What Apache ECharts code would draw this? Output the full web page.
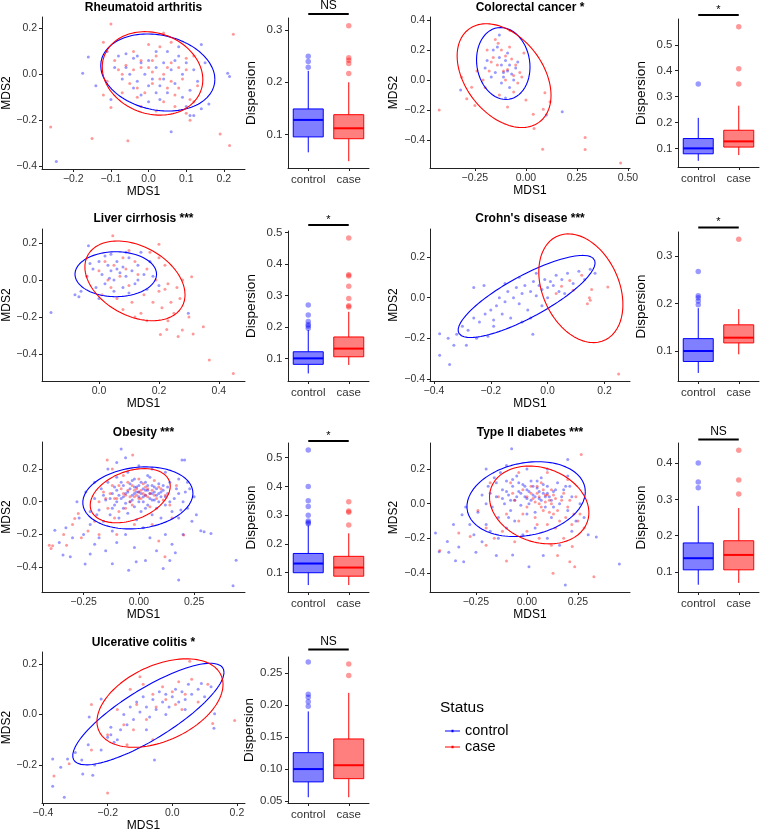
<!DOCTYPE html>
<html><head><meta charset="utf-8">
<script src="https://cdn.jsdelivr.net/npm/echarts@6/dist/echarts.min.js"></script>
<style>html,body{margin:0;padding:0;background:#fff}#c{width:760px;height:833px}</style>
</head><body><div id="c"></div>
<script>
// ---------------- DATA ----------------
const groups = ['control', 'case'];
const titles = ['Rheumatoid arthritis', 'Colorectal cancer *', 'Liver cirrhosis ***', "Crohn's disease ***", 'Obesity ***', 'Type II diabetes ***', 'Ulcerative colitis *'];
const sigLabels = ['NS', '*', '*', '*', '*', 'NS', 'NS'];

// MDS points [MDS1, MDS2]
const raControl = [[-0.245,-0.38],[-0.175,0.005],[-0.16,0.075],[-0.14,-0.05],[-0.1,-0.11],[0.06,-0.25],[0.14,0.13],[0.21,0.005],[0.215,-0.01],[-0.08,0.08],[-0.06,0.09],[-0.04,0.07],[-0.02,0.05],[0.0,0.06],[0.02,0.03],[0.04,0.05],[0.06,0.02],[0.08,0.08],[0.1,0.05],[0.12,0.02],[-0.07,-0.02],[-0.05,0.0],[-0.03,-0.03],[0.01,-0.02],[0.03,-0.05],[0.05,-0.08],[0.07,-0.04],[0.09,-0.1],[0.11,-0.07],[-0.02,-0.09],[0.0,-0.12],[0.03,-0.11],[0.1,-0.14],[0.12,-0.18],[0.16,-0.13],[-0.09,0.03],[0.13,-0.03],[0.15,0.05],[-0.11,0.1],[0.08,0.12],[0.02,0.1],[-0.01,0.0],[0.05,0.1],[0.11,-0.18],[0.14,-0.15],[-0.06,0.03],[-0.03,0.08],[0.0,-0.05],[0.04,-0.02],[0.07,0.06],[0.09,0.0],[-0.04,-0.06],[0.02,-0.08]];
const raCase = [[-0.1,0.22],[0.225,0.175],[-0.26,-0.23],[-0.15,-0.28],[-0.055,-0.29],[0.19,-0.26],[0.215,-0.31],[-0.1,-0.145],[-0.12,-0.09],[-0.12,0.14],[-0.08,0.02],[-0.06,0.04],[-0.04,0.02],[-0.02,0.06],[0.0,0.03],[0.02,0.08],[0.04,0.0],[0.06,0.05],[0.08,0.03],[0.1,0.07],[-0.05,-0.04],[-0.03,-0.06],[-0.01,-0.08],[0.01,-0.04],[0.03,-0.02],[0.05,-0.06],[0.07,-0.09],[0.09,-0.02],[0.11,-0.11],[-0.07,-0.08],[-0.04,0.1],[0.0,0.13],[0.03,0.12],[0.06,0.14],[-0.02,-0.14],[0.02,-0.16],[0.07,-0.14],[0.12,-0.12],[0.13,-0.05],[0.12,0.08],[-0.09,0.06],[0.04,0.18],[0.1,-0.17],[0.11,-0.2],[-0.11,-0.03],[0.01,0.01],[-0.07,0.0],[-0.02,0.03],[0.01,0.06],[0.05,0.03],[0.08,-0.06],[0.1,0.02],[-0.03,-0.1],[0.04,-0.12],[0.06,-0.03]];
const crcControl = [[-0.32,-0.067],[0.178,-0.212],[0.10,-0.234],[-0.19,0.13],[-0.16,0.2],[-0.14,0.22],[-0.13,0.15],[-0.12,0.1],[-0.11,0.05],[-0.1,0.13],[-0.09,0.18],[-0.08,0.1],[-0.07,0.04],[-0.06,0.0],[-0.05,0.08],[-0.15,0.05],[-0.17,0.02],[-0.2,0.08],[-0.12,-0.02],[-0.1,-0.12],[-0.08,-0.05],[-0.13,0.3],[-0.04,0.12],[-0.11,0.02],[-0.09,0.06]];
const crcCase = [[-0.425,-0.2],[0.29,-0.384],[0.29,-0.464],[0.082,-0.462],[0.464,-0.554],[0.04,-0.324],[0.036,-0.228],[0.085,-0.196],[0.093,-0.085],[-0.29,-0.125],[-0.25,-0.17],[-0.315,0.018],[-0.266,-0.049],[-0.09,-0.18],[0.0,-0.134],[0.118,-0.145],[-0.078,0.33],[-0.136,0.245],[-0.15,0.27],[-0.12,0.2],[-0.16,0.15],[-0.14,0.1],[-0.1,0.16],[-0.08,0.22],[-0.07,0.14],[-0.05,0.1],[-0.03,0.05],[-0.02,0.02],[-0.04,-0.02],[-0.06,0.03],[-0.11,0.06],[-0.18,0.06],[-0.21,0.0],[-0.2,-0.05],[-0.13,-0.1],[-0.06,-0.08],[-0.17,0.12],[-0.1,0.0],[-0.01,0.18],[-0.09,0.07],[-0.19,0.2],[-0.24,0.06]];
const lcControl = [[-0.16,-0.175],[0.298,-0.18],[-0.08,-0.08],[-0.067,-0.09],[-0.035,0.186],[-0.06,-0.06],[-0.04,0.02],[-0.02,0.06],[0.0,0.1],[0.01,0.03],[0.02,-0.02],[0.03,0.08],[0.04,0.05],[0.05,0.0],[0.06,0.1],[0.07,0.04],[0.08,0.07],[0.09,0.02],[0.1,0.12],[0.11,0.05],[0.12,-0.02],[0.13,0.08],[0.14,0.15],[0.15,0.03],[0.16,-0.05],[0.17,0.1],[0.02,0.13],[0.05,-0.06],[0.08,-0.04],[-0.01,-0.04],[0.04,0.14],[0.18,0.02],[0.1,-0.07],[0.06,0.06],[0.0,-0.1],[0.13,0.0],[-0.03,0.09],[0.09,0.15],[0.2,-0.03],[0.035,0.01]];
const lcCase = [[0.046,0.24],[0.2,0.193],[0.348,-0.252],[0.368,-0.432],[0.448,-0.505],[0.205,-0.294],[0.226,-0.267],[0.264,-0.306],[0.278,-0.27],[0.314,-0.292],[0.279,0.0],[0.309,0.018],[0.27,-0.1],[0.0,0.05],[0.03,0.0],[0.05,0.08],[0.07,0.02],[0.09,0.06],[0.1,-0.03],[0.12,0.1],[0.13,0.03],[0.15,-0.08],[0.16,0.06],[0.18,-0.12],[0.19,0.0],[0.2,-0.06],[0.21,-0.15],[0.22,-0.05],[0.23,-0.02],[0.24,-0.12],[0.25,-0.18],[0.26,-0.04],[0.11,-0.12],[0.08,-0.16],[0.06,-0.1],[0.14,-0.18],[0.17,0.15],[0.2,0.12],[0.04,-0.04],[0.02,0.1],[0.12,-0.2],[0.16,-0.22],[0.23,-0.22],[0.08,0.12],[0.1,0.16],[0.22,0.08],[0.01,-0.08],[0.3,-0.2]];
const cdControl = [[-0.38,-0.177],[-0.38,-0.283],[-0.345,-0.329],[-0.33,-0.234],[-0.224,0.06],[-0.052,-0.18],[0.167,0.12],[-0.286,-0.234],[-0.35,-0.2],[-0.32,-0.18],[-0.3,-0.14],[-0.28,-0.16],[-0.26,-0.1],[-0.25,-0.2],[-0.24,-0.12],[-0.22,-0.08],[-0.21,-0.19],[-0.2,-0.06],[-0.19,-0.11],[-0.18,-0.04],[-0.17,0.0],[-0.16,-0.08],[-0.15,-0.02],[-0.14,0.03],[-0.13,-0.1],[-0.12,0.0],[-0.11,0.05],[-0.1,-0.03],[-0.09,0.02],[-0.08,0.06],[-0.07,-0.06],[-0.06,0.03],[-0.05,0.08],[-0.04,0.01],[-0.03,0.06],[-0.02,0.04],[-0.01,0.09],[0.0,0.05],[0.01,0.08],[0.02,0.06],[0.03,0.11],[0.04,0.03],[0.05,0.09],[0.07,0.12],[0.09,0.07],[0.11,0.13],[0.13,0.09],[0.15,0.14],[-0.1,0.1],[-0.15,0.07],[-0.06,-0.1],[-0.02,-0.04],[0.0,0.0],[-0.19,-0.14],[-0.26,0.05],[-0.09,-0.12],[-0.04,0.12],[0.06,0.02]];
const cdCase = [[0.212,0.052],[0.25,-0.376],[0.15,-0.013],[0.147,0.0],[0.155,0.04],[0.12,0.11],[0.078,0.085],[0.09,0.036],[0.049,0.056],[0.03,0.02],[0.14,-0.03]];
const obControl = [[-0.08,0.323],[0.195,0.256],[0.207,0.256],[0.44,-0.358],[0.426,-0.515],[0.18,-0.48],[0.165,-0.313],[-0.012,-0.368],[-0.046,-0.419],[-0.243,-0.382],[-0.343,-0.327],[-0.31,-0.337],[-0.38,-0.174],[0.28,-0.178],[0.295,-0.184],[0.326,-0.194],[0.11,-0.409],[-0.2,0.02],[-0.18,-0.05],[-0.17,0.08],[-0.16,-0.12],[-0.15,0.01],[-0.14,0.12],[-0.13,-0.08],[-0.12,0.05],[-0.11,-0.02],[-0.1,0.15],[-0.1,0.07],[-0.09,-0.1],[-0.08,0.02],[-0.07,0.1],[-0.07,-0.04],[-0.06,0.05],[-0.05,0.18],[-0.05,-0.07],[-0.04,0.08],[-0.04,0.0],[-0.03,0.13],[-0.03,0.04],[-0.02,-0.03],[-0.02,0.09],[-0.01,0.06],[-0.01,-0.11],[0.0,0.03],[0.0,0.1],[0.01,0.05],[0.01,-0.06],[0.02,0.08],[0.02,0.0],[0.03,0.12],[0.03,0.04],[0.04,-0.02],[0.04,0.07],[0.05,0.02],[0.05,0.15],[0.06,0.05],[0.06,-0.08],[0.07,0.09],[0.07,0.01],[0.08,0.04],[0.08,-0.04],[0.09,0.11],[0.1,0.03],[0.1,-0.1],[0.11,0.07],[0.12,-0.02],[0.13,0.05],[0.14,0.12],[0.15,-0.06],[0.16,0.02],[0.17,0.08],[0.18,-0.1],[0.2,0.0],[0.21,0.06],[0.22,-0.04],[0.24,-0.12],[0.25,0.03],[-0.27,-0.1],[-0.25,-0.2],[-0.22,-0.14],[-0.2,-0.26],[-0.18,-0.22],[-0.15,-0.3],[-0.12,-0.18],[-0.1,-0.25],[-0.06,-0.2],[-0.02,-0.28],[0.02,-0.16],[0.05,-0.22],[0.08,-0.3],[0.12,-0.2],[0.15,-0.26],[0.2,-0.2],[-0.3,-0.22],[-0.33,-0.16],[-0.28,0.0],[-0.24,0.06],[-0.2,0.12],[-0.14,0.2],[-0.1,0.24],[-0.06,0.27],[0.0,0.22],[0.06,0.2],[0.12,0.18],[0.18,0.14],[0.22,0.12],[0.26,-0.08],[-0.36,-0.25],[-0.22,-0.32],[0.03,-0.36],[0.14,-0.36],[-0.12,-0.38],[-0.13,0.02],[-0.11,0.09],[-0.09,0.04],[-0.08,0.12],[-0.06,-0.01],[-0.05,0.06],[-0.04,0.11],[-0.03,0.01],[-0.02,0.05],[-0.01,0.09],[0.0,0.0],[0.0,0.06],[0.01,0.12],[0.02,0.03],[0.03,0.07],[0.04,0.1],[0.05,0.05],[0.06,0.01],[0.06,0.1],[0.07,0.06],[0.08,0.08],[0.09,0.0],[0.1,0.06],[0.11,0.1],[0.12,0.03],[0.13,0.09],[0.14,0.0],[-0.12,-0.04],[-0.1,0.0],[-0.07,0.03],[0.03,-0.04],[0.09,0.05],[-0.02,0.14],[0.04,0.16],[-0.16,0.04],[0.18,0.05],[0.19,-0.05],[0.23,0.08],[-0.22,-0.06],[-0.19,-0.08]];
const obCase = [[-0.405,-0.266],[-0.39,-0.27],[-0.397,-0.286],[-0.327,-0.266],[-0.028,0.286],[-0.143,0.256],[0.118,-0.337],[0.203,-0.204],[-0.274,-0.072],[-0.29,-0.102],[-0.18,0.0],[-0.16,0.06],[-0.14,-0.04],[-0.12,0.1],[-0.1,0.02],[-0.09,-0.06],[-0.08,0.08],[-0.06,0.04],[-0.05,0.12],[-0.04,0.03],[-0.03,-0.02],[-0.02,0.07],[-0.01,0.04],[0.0,0.06],[0.01,0.02],[0.02,0.05],[0.03,0.09],[0.04,0.03],[0.05,-0.03],[0.06,0.07],[0.08,0.02],[0.1,0.08],[0.12,0.04],[0.14,-0.02],[-0.11,-0.1],[-0.07,0.16],[0.0,0.14],[0.07,0.13],[-0.2,-0.12],[-0.23,-0.18],[-0.26,-0.22],[-0.18,-0.2],[-0.1,-0.2],[-0.02,-0.14],[0.06,-0.14],[0.15,-0.1],[-0.3,-0.14],[-0.34,-0.2],[0.17,0.1],[-0.12,0.2],[0.09,-0.24],[-0.13,0.05],[-0.11,0.02],[-0.09,0.1],[-0.07,0.05],[-0.05,0.07],[-0.04,0.0],[-0.03,0.1],[-0.02,0.03],[-0.01,0.08],[0.0,0.02],[0.01,0.07],[0.02,0.11],[0.03,0.04],[0.04,0.08],[0.05,0.05],[0.07,0.04],[0.09,0.09],[0.11,0.01],[-0.15,0.02],[-0.06,-0.04]];
const t2Control = [[-0.075,0.317],[0.2,0.255],[0.453,-0.348],[0.188,-0.47],[0.01,-0.364],[-0.07,-0.296],[0.34,-0.193],[-0.383,-0.28],[-0.35,-0.329],[-0.31,-0.335],[-0.318,-0.064],[-0.448,-0.17],[-0.39,-0.218],[-0.43,-0.277],[-0.334,-0.25],[-0.24,-0.05],[-0.22,0.05],[-0.2,-0.12],[-0.19,0.1],[-0.17,-0.02],[-0.16,0.15],[-0.15,0.04],[-0.14,-0.08],[-0.13,0.18],[-0.12,0.08],[-0.11,0.0],[-0.1,0.13],[-0.09,0.05],[-0.08,-0.04],[-0.07,0.1],[-0.06,0.02],[-0.05,0.16],[-0.04,0.07],[-0.03,-0.01],[-0.02,0.11],[-0.01,0.04],[0.0,0.08],[0.01,0.0],[0.02,0.13],[0.03,0.05],[0.04,-0.05],[0.05,0.09],[0.06,0.03],[0.07,0.15],[0.08,0.06],[0.09,-0.02],[0.1,0.1],[0.11,0.04],[0.12,-0.08],[0.13,0.07],[0.15,0.12],[0.16,0.0],[0.18,0.08],[0.2,-0.04],[0.22,0.04],[0.24,-0.1],[-0.28,-0.12],[-0.26,-0.18],[-0.22,-0.22],[-0.18,-0.16],[-0.14,-0.2],[-0.1,-0.14],[-0.06,-0.1],[-0.02,-0.18],[0.04,-0.14],[0.1,-0.2],[0.16,-0.24],[0.22,-0.16],[0.26,0.0],[0.28,-0.08],[-0.3,-0.02],[-0.2,0.2],[-0.1,0.22],[0.0,0.2],[0.1,0.2],[0.2,0.16],[-0.36,-0.12],[-0.25,-0.28],[0.08,-0.3],[0.3,-0.18],[-0.15,-0.3],[-0.12,0.03],[-0.1,0.07],[-0.08,0.02],[-0.07,0.14],[-0.05,0.04],[-0.04,0.12],[-0.03,0.06],[-0.01,0.1],[0.0,0.03],[0.01,0.07],[0.02,0.02],[0.03,0.1],[0.04,0.04],[0.05,0.13],[0.06,0.07],[0.07,0.02],[0.08,0.11],[0.09,0.04],[0.1,0.06],[0.12,0.02],[0.14,0.08],[0.17,0.04],[-0.18,0.06],[-0.15,0.12],[-0.2,0.0],[0.19,0.1],[-0.09,-0.08],[0.0,-0.06],[0.13,-0.02],[0.21,0.1]];
const t2Case = [[0.266,0.284],[-0.427,-0.271],[0.328,-0.422],[0.234,-0.364],[-0.1,-0.331],[0.128,-0.402],[0.21,-0.335],[0.222,-0.248],[-0.334,-0.17],[-0.278,-0.19],[-0.14,0.04],[-0.1,-0.06],[-0.08,0.12],[-0.06,0.02],[-0.04,-0.1],[-0.02,0.08],[0.0,-0.02],[0.02,0.1],[0.03,0.03],[0.04,-0.08],[0.05,0.06],[0.06,0.0],[0.07,0.12],[0.08,-0.04],[0.09,0.05],[0.1,-0.12],[0.11,0.02],[0.12,0.08],[0.13,-0.06],[0.14,0.03],[0.16,-0.1],[0.18,0.06],[0.2,-0.02],[0.22,-0.12],[0.24,0.04],[0.26,-0.06],[0.28,-0.14],[-0.2,-0.14],[-0.16,-0.2],[-0.12,-0.16],[-0.06,-0.22],[0.0,-0.16],[0.06,-0.2],[0.12,-0.24],[0.18,-0.2],[-0.18,0.12],[-0.04,0.18],[0.1,0.18],[0.2,0.14],[-0.24,-0.04],[0.15,-0.3],[-0.2,-0.24],[0.0,0.04],[0.02,0.06],[0.04,0.01],[0.05,0.1],[0.06,0.04],[0.07,-0.02],[0.08,0.08],[0.09,0.01],[0.1,0.05],[0.11,-0.05],[0.12,0.0],[0.13,0.05],[0.15,-0.04],[0.17,0.02],[0.19,-0.08],[0.21,0.02],[0.23,-0.06],[-0.02,-0.06],[-0.07,0.06],[0.05,-0.12],[0.14,-0.14],[0.25,-0.1]];
const ucControl = [[-0.37,-0.176],[-0.37,-0.284],[-0.334,-0.327],[-0.324,-0.176],[-0.345,-0.209],[-0.277,-0.235],[-0.246,-0.24],[-0.257,-0.01],[-0.22,0.062],[-0.055,-0.18],[0.131,0.003],[0.129,-0.054],[0.09,0.123],[-0.3,-0.15],[-0.28,-0.18],[-0.26,-0.12],[-0.24,-0.2],[-0.22,-0.14],[-0.2,-0.09],[-0.19,-0.05],[-0.18,-0.11],[-0.16,-0.06],[-0.15,0.0],[-0.14,-0.04],[-0.13,0.03],[-0.12,-0.02],[-0.11,0.05],[-0.1,0.01],[-0.09,0.07],[-0.08,0.03],[-0.07,-0.01],[-0.06,0.06],[-0.05,0.02],[-0.04,0.09],[-0.03,0.05],[-0.02,0.08],[-0.01,0.03],[0.0,0.07],[0.01,0.1],[0.02,0.05],[0.03,0.09],[0.04,0.06],[0.05,0.12],[0.06,0.08],[0.08,0.1],[0.1,0.07],[0.12,0.11],[-0.19,-0.08],[-0.17,-0.1],[-0.08,-0.06],[-0.02,0.0],[0.04,0.02]];
const ucCase = [[-0.366,-0.243],[-0.2,-0.31],[0.054,0.211],[0.193,-0.024],[0.125,-0.035],[-0.25,0.04],[-0.25,-0.14],[-0.319,-0.195],[-0.2,-0.08],[-0.17,0.02],[-0.15,-0.04],[-0.13,0.1],[-0.11,0.04],[-0.09,0.12],[-0.08,-0.02],[-0.06,0.08],[-0.05,0.03],[-0.03,0.11],[-0.02,0.06],[0.0,0.09],[0.01,0.04],[0.02,0.13],[0.04,0.08],[0.06,0.14],[0.08,0.05],[-0.12,-0.06],[-0.06,-0.1],[-0.1,0.15],[0.03,0.02],[-0.14,-0.12],[0.11,0.12]];

// Ellipses: [centre MDS1, centre MDS2, half-range MDS1, half-range MDS2, correlation]
const raEllControl = [0.0245, 0.008, 0.1515, 0.168, -0.18];
const raEllCase    = [0.0105, 0.004, 0.1335, 0.182, -0.15];
const crcEllControl = [-0.111, 0.11, 0.131, 0.24, -0.1];
const crcEllCase    = [-0.107, 0.029, 0.23, 0.346, -0.38];
const lcEllControl = [0.056, 0.0315, 0.136, 0.1215, 0.0];
const lcEllCase    = [0.12, -0.0045, 0.167, 0.2155, -0.35];
const cdEllControl = [-0.074, 0.006, 0.241, 0.202, 0.82];
const cdEllCase    = [0.117, 0.0465, 0.148, 0.2675, -0.3];
const obEllControl = [-0.0045, 0.0235, 0.249, 0.19, 0.15];
const obEllCase    = [-0.039, 0.037, 0.181, 0.166, 0.35];
const t2EllControl = [-0.004, 0.026, 0.29, 0.216, 0.2];
const t2EllCase    = [0.06, -0.0075, 0.2435, 0.2245, -0.2];
const ucEllControl = [-0.074, 0.002, 0.234, 0.201, 0.82];
const ucEllCase    = [-0.038, 0.0455, 0.195, 0.175, 0.42];

// Dispersion boxes: [lower whisker, Q1, median, Q3, upper whisker]
const raBoxControl = [0.066, 0.0955, 0.128, 0.149, 0.222];
const raBoxCase    = [0.049, 0.092, 0.112, 0.138, 0.20];
const crcBoxControl = [0.052, 0.079, 0.10, 0.138, 0.218];
const crcBoxCase    = [0.074, 0.105, 0.127, 0.17, 0.265];
const lcBoxControl = [0.052, 0.081, 0.10, 0.121, 0.19];
const lcBoxCase    = [0.079, 0.105, 0.131, 0.168, 0.248];
const cdBoxControl = [0.054, 0.078, 0.10, 0.126, 0.19];
const cdBoxCase    = [0.093, 0.117, 0.128, 0.155, 0.188];
const obBoxControl = [0.057, 0.10, 0.132, 0.167, 0.265];
const obBoxCase    = [0.057, 0.088, 0.118, 0.157, 0.237];
const t2BoxControl = [0.065, 0.106, 0.138, 0.18, 0.282];
const t2BoxCase    = [0.07, 0.106, 0.147, 0.186, 0.276];
const ucBoxControl = [0.056, 0.08, 0.10, 0.1256, 0.19];
const ucBoxCase    = [0.056, 0.085, 0.106, 0.147, 0.219];

// Outliers
const raOutControl = [0.229, 0.24, 0.25];
const raOutCase    = [0.217, 0.236, 0.242, 0.247, 0.308];
const crcOutControl = [0.349];
const crcOutCase    = [0.349, 0.408, 0.57];
const lcOutControl = [0.196, 0.203, 0.208, 0.217, 0.238, 0.27];
const lcOutCase    = [0.263, 0.267, 0.29, 0.329, 0.362, 0.366, 0.483];
const cdOutControl = [0.197, 0.205, 0.212, 0.216, 0.267];
const cdOutCase    = [0.335];
const obOutControl = [0.27, 0.275, 0.28, 0.3, 0.33, 0.35, 0.4, 0.527];
const obOutCase    = [0.266, 0.31, 0.315, 0.347];
const t2OutControl = [0.332, 0.348, 0.4];
const t2OutCase    = [0.315, 0.353, 0.435];
const ucOutControl = [0.198, 0.205, 0.212, 0.217, 0.267];
const ucOutCase    = [0.246, 0.264];

// Tick labels
const mdsTicksA = [-0.4, -0.2, 0.0, 0.2];
const mdsTicksB = [-0.2, -0.1, 0.0, 0.1, 0.2];
const mdsTicksC = [-0.25, 0.0, 0.25, 0.5];
const mdsTicksD = [-0.4, -0.2, 0.0, 0.2, 0.4];
const mdsTicksE = [0.0, 0.2, 0.4];
const mdsTicksF = [-0.25, 0.0, 0.25];
const mdsTicksG = [-0.2, 0.0, 0.2];
const dispTicks3 = [0.1, 0.2, 0.3];
const dispTicks4 = [0.1, 0.2, 0.3, 0.4];
const dispTicks5 = [0.1, 0.2, 0.3, 0.4, 0.5];
const dispTicksUC = [0.05, 0.10, 0.15, 0.20, 0.25];

// ---------------- PANELS & LAYOUT ----------------
const panels = [
  {ctrl: raControl, cas: raCase, eC: raEllControl, eK: raEllCase, bC: raBoxControl, bK: raBoxCase, oC: raOutControl, oK: raOutCase,
   xt: mdsTicksB, xd: 1, yt: mdsTicksA, yd: 1, bt: dispTicks3, bd: 1, xr: [-0.283, 0.256], yr: [-0.413, 0.25], br: [0.036, 0.323]},
  {ctrl: crcControl, cas: crcCase, eC: crcEllControl, eK: crcEllCase, bC: crcBoxControl, bK: crcBoxCase, oC: crcOutControl, oK: crcOutCase,
   xt: mdsTicksC, xd: 2, yt: mdsTicksD, yd: 1, bt: dispTicks5, bd: 1, xr: [-0.47, 0.51], yr: [-0.587, 0.42], br: [0.028, 0.6]},
  {ctrl: lcControl, cas: lcCase, eC: lcEllControl, eK: lcEllCase, bC: lcBoxControl, bK: lcBoxCase, oC: lcOutControl, oK: lcOutCase,
   xt: mdsTicksE, xd: 1, yt: mdsTicksA, yd: 1, bt: dispTicks5, bd: 1, xr: [-0.19, 0.487], yr: [-0.546, 0.276], br: [0.028, 0.505]},
  {ctrl: cdControl, cas: cdCase, eC: cdEllControl, eK: cdEllCase, bC: cdBoxControl, bK: cdBoxCase, oC: cdOutControl, oK: cdOutCase,
   xt: mdsTicksA, xd: 1, yt: mdsTicksA, yd: 1, bt: dispTicks3, bd: 1, xr: [-0.414, 0.29], yr: [-0.41, 0.338], br: [0.037, 0.35]},
  {ctrl: obControl, cas: obCase, eC: obEllControl, eK: obEllCase, bC: obBoxControl, bK: obBoxCase, oC: obOutControl, oK: obOutCase,
   xt: mdsTicksF, xd: 2, yt: mdsTicksA, yd: 1, bt: dispTicks5, bd: 1, xr: [-0.438, 0.48], yr: [-0.553, 0.366], br: [0.033, 0.551]},
  {ctrl: t2Control, cas: t2Case, eC: t2EllControl, eK: t2EllCase, bC: t2BoxControl, bK: t2BoxCase, oC: t2OutControl, oK: t2OutCase,
   xt: mdsTicksF, xd: 2, yt: mdsTicksA, yd: 1, bt: dispTicks4, bd: 1, xr: [-0.475, 0.505], yr: [-0.51, 0.35], br: [0.045, 0.455]},
  {ctrl: ucControl, cas: ucCase, eC: ucEllControl, eK: ucEllCase, bC: ucBoxControl, bK: ucBoxCase, oC: ucOutControl, oK: ucOutCase,
   xt: mdsTicksA, xd: 1, yt: mdsTicksG, yd: 1, bt: dispTicksUC, bd: 2, xr: [-0.403, 0.225], yr: [-0.35, 0.2475], br: [0.047, 0.275]}
];

const L = [
  {sx: 42, sw: 203, top: 17, bot: 169, bx: 288, bw: 81, btop: 18, bbot: 168, ty: 8, barY: 14, ny: 28, bny: 30},
  {sx: 430, sw: 200, top: 17, bot: 168, bx: 678, bw: 81, btop: 19, bbot: 167, ty: 8, barY: 15, ny: 30, bny: 30},
  {sx: 42, sw: 203, top: 229, bot: 381, bx: 288, bw: 81, btop: 231, bbot: 381, ty: 219, barY: 225, ny: 28, bny: 30},
  {sx: 430, sw: 200, top: 229, bot: 381, bx: 678, bw: 81, btop: 232, bbot: 381, ty: 219, barY: 227.5, ny: 30, bny: 30},
  {sx: 42, sw: 203, top: 442, bot: 592, bx: 288, bw: 81, btop: 443, bbot: 592, ty: 433, barY: 441, ny: 28, bny: 30},
  {sx: 430, sw: 200, top: 443, bot: 592, bx: 678, bw: 81, btop: 443, bbot: 592, ty: 433, barY: 439.5, ny: 30, bny: 30},
  {sx: 42, sw: 203, top: 652, bot: 803, bx: 288, bw: 81, btop: 657, bbot: 803, ty: 643, barY: 649.5, ny: 28, bny: 30}
];

const FONT = '"Liberation Sans", Arial, Helvetica, sans-serif';
const BLUE = '#0000ff', RED = '#ff0000';
const BLUE_A = 'rgba(0,0,255,0.5)', RED_A = 'rgba(255,0,0,0.5)';
const AX = '#222';

function fmt(d) { return v => (v < -1e-9 ? '\u2212' : '') + Math.abs(v).toFixed(d); }
function ellipse(p) {
  const [cx, cy, sx, sy, r] = p, q = Math.sqrt(1 - r * r), pts = [];
  for (let i = 0; i <= 120; i++) {
    const t = 2 * Math.PI * i / 120;
    pts.push([cx + sx * Math.cos(t), cy + sy * (r * Math.cos(t) + q * Math.sin(t))]);
  }
  return pts;
}
function valueAxis(gi, range, ticks, dec, name, gap, fs, nfs, margin) {
  return {
    type: 'value', gridIndex: gi, min: range[0], max: range[1],
    name: name, nameLocation: 'middle', nameGap: gap,
    nameTextStyle: {fontFamily: FONT, fontSize: nfs, color: '#000'},
    axisLine: {show: true, onZero: false, lineStyle: {color: AX, width: 1}},
    axisTick: {show: true, length: 3, lineStyle: {color: AX}, customValues: ticks},
    axisLabel: {customValues: ticks, formatter: fmt(dec), fontFamily: FONT, fontSize: fs, color: '#333', margin: margin},
    splitLine: {show: false}
  };
}

const grids = [], xAxes = [], yAxes = [], series = [], graphics = [];
panels.forEach((p, k) => {
  const l = L[k], gs = 2 * k, gb = 2 * k + 1;
  grids.push({left: l.sx, top: l.top, width: l.sw, height: l.bot - l.top, outerBoundsMode: 'none', containLabel: false});
  grids.push({left: l.bx, top: l.btop, width: l.bw, height: l.bbot - l.btop, outerBoundsMode: 'none', containLabel: false});
  xAxes.push(valueAxis(gs, p.xr, p.xt, p.xd, 'MDS1', 16, 10.5, 12, 5));
  yAxes.push(valueAxis(gs, p.yr, p.yt, p.yd, 'MDS2', l.ny, 10.5, 12, 5));
  xAxes.push({
    type: 'category', gridIndex: gb, data: groups, boundaryGap: true,
    axisLine: {show: true, onZero: false, lineStyle: {color: AX, width: 1}},
    axisTick: {show: true, length: 3, alignWithLabel: true, interval: 0, lineStyle: {color: AX}},
    axisLabel: {interval: 0, hideOverlap: false, fontFamily: FONT, fontSize: 11.5, color: '#333', margin: 5.5},
    splitLine: {show: false}
  });
  yAxes.push(valueAxis(gb, p.br, p.bt, p.bd, 'Dispersion', l.bny, 11.5, 13.5, 5.5));

  series.push({type: 'scatter', name: 'control points', xAxisIndex: gs, yAxisIndex: gs, data: p.ctrl, symbolSize: 3, itemStyle: {color: BLUE_A}, silent: true, z: 2});
  series.push({type: 'scatter', name: 'case points', xAxisIndex: gs, yAxisIndex: gs, data: p.cas, symbolSize: 3, itemStyle: {color: RED_A}, silent: true, z: 2});
  series.push({type: 'line', name: 'control', xAxisIndex: gs, yAxisIndex: gs, data: ellipse(p.eC), showSymbol: false, symbol: 'none', smooth: false, silent: true, z: 3,
    lineStyle: {color: BLUE, width: 1.1}, itemStyle: {color: BLUE}});
  series.push({type: 'line', name: 'case', xAxisIndex: gs, yAxisIndex: gs, data: ellipse(p.eK), showSymbol: false, symbol: 'none', smooth: false, silent: true, z: 3,
    lineStyle: {color: RED, width: 1.1}, itemStyle: {color: RED}});

  const boxData = [[0].concat(p.bC), [1].concat(p.bK)];
  series.push({
    type: 'custom', name: 'dispersion', xAxisIndex: gb, yAxisIndex: gb, data: boxData, silent: true, z: 3,
    encode: {x: 0, y: [1, 2, 3, 4, 5]},
    renderItem: function (params, api) {
      const i = api.value(0);
      const col = i === 0 ? BLUE : RED, fill = i === 0 ? BLUE_A : RED_A;
      const w = api.size([1, 0])[0] * 0.74, h = w / 2;
      const pMin = api.coord([i, api.value(1)]), pQ1 = api.coord([i, api.value(2)]);
      const pMed = api.coord([i, api.value(3)]), pQ3 = api.coord([i, api.value(4)]);
      const pMax = api.coord([i, api.value(5)]);
      const x = pMin[0];
      return {type: 'group', children: [
        {type: 'line', shape: {x1: x, y1: pMin[1], x2: x, y2: pQ1[1]}, style: {stroke: col, lineWidth: 1}},
        {type: 'line', shape: {x1: x, y1: pQ3[1], x2: x, y2: pMax[1]}, style: {stroke: col, lineWidth: 1}},
        {type: 'rect', shape: {x: x - h, y: pQ3[1], width: w, height: pQ1[1] - pQ3[1]}, style: {fill: fill, stroke: col, lineWidth: 1}},
        {type: 'line', shape: {x1: x - h, y1: pMed[1], x2: x + h, y2: pMed[1]}, style: {stroke: col, lineWidth: 2}}
      ]};
    }
  });
  series.push({type: 'scatter', name: 'control outliers', xAxisIndex: gb, yAxisIndex: gb, data: p.oC.map(v => [0, v]), symbolSize: 5.5, itemStyle: {color: BLUE_A}, silent: true, z: 4});
  series.push({type: 'scatter', name: 'case outliers', xAxisIndex: gb, yAxisIndex: gb, data: p.oK.map(v => [1, v]), symbolSize: 5.5, itemStyle: {color: RED_A}, silent: true, z: 4});

  graphics.push({type: 'text', x: l.sx + l.sw / 2, y: l.ty, style: {text: titles[k], fontFamily: FONT, fontSize: 12, fontWeight: 'bold', fill: '#000', textAlign: 'center', textVerticalAlign: 'middle'}});
});

graphics.push({type: 'text', x: 440, y: 708, style: {text: 'Status', fontFamily: FONT, fontSize: 15.5, fill: '#000', textAlign: 'left', textVerticalAlign: 'middle'}});

const chart = echarts.init(document.getElementById('c'), null, {renderer: 'canvas'});
chart.setOption({
  animation: false,
  backgroundColor: '#fff',
  grid: grids, xAxis: xAxes, yAxis: yAxes, series: series,
  legend: {
    data: groups, orient: 'vertical', left: 440, top: 718, itemGap: 0, itemWidth: 15, itemHeight: 4, itemTextGap: 3,
    selectedMode: false,
    icon: 'path://M0,1.5 L15,1.5 L15,2.5 L0,2.5 Z M6.5,0.8 L8.5,0.8 L8.5,3.2 L6.5,3.2 Z',
    textStyle: {fontFamily: FONT, fontSize: 14.5, color: '#000', lineHeight: 16}
  },
  graphic: graphics
});

// significance bars, placed from the box axes
const extra = graphics.slice();
panels.forEach((p, k) => {
  const gb = 2 * k + 1, l = L[k];
  const a = chart.convertToPixel({gridIndex: gb}, [0, p.br[1]]);
  const b = chart.convertToPixel({gridIndex: gb}, [1, p.br[1]]);
  extra.push({type: 'line', shape: {x1: a[0], y1: l.barY, x2: b[0], y2: l.barY}, style: {stroke: '#000', lineWidth: 1.8}});
  extra.push({type: 'text', x: (a[0] + b[0]) / 2, y: l.barY - (sigLabels[k] === 'NS' ? 2 : 0), style: {text: sigLabels[k], fontFamily: FONT, fontSize: sigLabels[k] === 'NS' ? 12 : 11, fill: '#000', textAlign: 'center', textVerticalAlign: 'bottom'}});
});
chart.setOption({graphic: extra});
</script>
</body></html>
